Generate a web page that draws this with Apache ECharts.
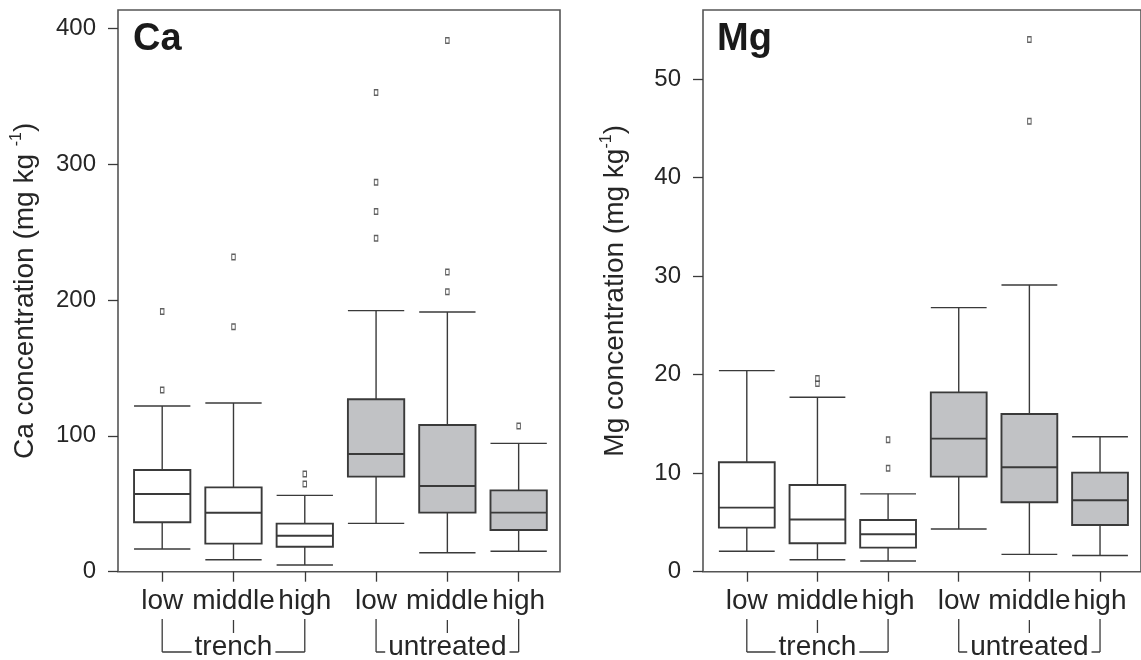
<!DOCTYPE html>
<html>
<head>
<meta charset="utf-8">
<script src="https://cdn.jsdelivr.net/npm/echarts@6/dist/echarts.min.js"></script>
<style>
  html, body { margin: 0; padding: 0; background: #fff; }
  #chart { width: 1141px; height: 660px; }
</style>
</head>
<body>
<div id="chart"></div>
<script>
// Sampling positions along the slope, grouped by treatment
const categories = ['low', 'middle', 'high', 'low', 'middle', 'high'];
const treatments = ['trench', 'trench', 'trench', 'untreated', 'untreated', 'untreated'];
const groupNames = ['trench', 'untreated'];

// Tick labels of the two concentration axes
const caTicks = [0, 100, 200, 300, 400];
const mgTicks = [0, 10, 20, 30, 40, 50];

// Ca (mg kg-1): [lower whisker, Q1, median, Q3, upper whisker]
const caStats = [
  [16.7, 36.4, 57.2, 74.9, 122.0],
  [8.8, 20.7, 43.4, 62.1, 124.2],
  [4.9, 18.4, 26.5, 35.4, 56.2],
  [35.6, 70.0, 86.7, 126.9, 192.2],
  [14.0, 43.5, 63.1, 108.0, 191.2],
  [15.0, 30.7, 43.5, 59.9, 94.5]
];
const caOutliers = [
  [133.7, 191.5],
  [180.4, 231.7],
  [64.6, 71.9],
  [245.5, 265.1, 286.7, 352.7],
  [206.0, 220.7, 391.0],
  [107.3]
];

// Mg (mg kg-1): [lower whisker, Q1, median, Q3, upper whisker]
const mgStats = [
  [2.07, 4.47, 6.5, 11.1, 20.4],
  [1.22, 2.88, 5.3, 8.8, 17.7],
  [1.09, 2.44, 3.8, 5.25, 7.9],
  [4.34, 9.65, 13.5, 18.2, 26.8],
  [1.76, 7.05, 10.6, 16.0, 29.1],
  [1.64, 4.74, 7.25, 10.05, 13.7]
];
const mgOutliers = [
  [],
  [19.1, 19.6],
  [10.5, 13.4],
  [],
  [45.7, 54.0],
  []
];

const FONT = '"Liberation Sans", Arial, Helvetica, sans-serif';
const INK = '#262626';
const LINE = '#3a3a3a';
const FRAME = '#555555';
const SHADE = '#c1c2c5';
const X_MIN = 0.38, X_MAX = 6.58;
const BOX_W = 0.79;
const positions = categories.map((_, i) => i + 1);

function boxRows(stats) {
  return stats.map((s, i) => [positions[i]].concat(s, [treatments[i] === 'untreated' ? 1 : 0]));
}
function outlierPoints(outliers) {
  const pts = [];
  outliers.forEach((vals, i) => vals.forEach(v => pts.push([positions[i], v])));
  return pts;
}

function renderBox(params, api) {
  const x = api.value(0);
  const pMin = api.coord([x, api.value(1)]);
  const pQ1 = api.coord([x, api.value(2)]);
  const pMed = api.coord([x, api.value(3)]);
  const pQ3 = api.coord([x, api.value(4)]);
  const pMax = api.coord([x, api.value(5)]);
  const shaded = api.value(6) === 1;
  const half = api.size([BOX_W, 0])[0] / 2;
  const cx = pMed[0];
  const thin = { stroke: LINE, lineWidth: 1.4 };
  const thick = { stroke: LINE, lineWidth: 1.9 };
  return {
    type: 'group',
    children: [
      { type: 'line', shape: { x1: cx, y1: pMax[1], x2: cx, y2: pQ3[1] }, style: thin },
      { type: 'line', shape: { x1: cx, y1: pQ1[1], x2: cx, y2: pMin[1] }, style: thin },
      { type: 'line', shape: { x1: cx - half, y1: pMax[1], x2: cx + half, y2: pMax[1] }, style: thin },
      { type: 'line', shape: { x1: cx - half, y1: pMin[1], x2: cx + half, y2: pMin[1] }, style: thin },
      { type: 'rect', shape: { x: cx - half, y: pQ3[1], width: 2 * half, height: pQ1[1] - pQ3[1] },
        style: { fill: shaded ? SHADE : '#ffffff', stroke: LINE, lineWidth: 1.9 } },
      { type: 'line', shape: { x1: cx - half, y1: pMed[1], x2: cx + half, y2: pMed[1] }, style: thick }
    ]
  };
}

function xAxisFor(g) {
  return {
    type: 'value', gridIndex: g, min: X_MIN, max: X_MAX, offset: 2,
    axisLine: { show: false },
    splitLine: { show: false },
    axisTick: { show: true, length: 10, customValues: positions, lineStyle: { color: LINE, width: 1.3 } },
    axisLabel: {
      customValues: positions,
      formatter: v => categories[Math.round(v) - 1],
      fontSize: 28, fontFamily: FONT, color: INK, margin: 14
    }
  };
}

function yAxisFor(g, max, ticks, name, nameGap) {
  return {
    type: 'value', gridIndex: g, min: 0, max: max,
    axisLine: { show: false },
    splitLine: { show: false },
    axisTick: { show: true, length: 10, customValues: ticks, lineStyle: { color: LINE, width: 1.3 } },
    axisLabel: { customValues: ticks, fontSize: 24, fontFamily: FONT, color: INK, margin: 22 },
    name: name,
    nameLocation: 'middle',
    nameRotate: 90,
    nameGap: nameGap,
    nameTextStyle: {
      rich: {
        t: { fontSize: 28, fontFamily: FONT, color: INK, lineHeight: 32 },
        s: { fontSize: 16, fontFamily: FONT, color: INK, lineHeight: 32, verticalAlign: 'top', padding: [0, 0, 13, 0] }
      }
    }
  };
}

const gridStyle = { show: true, borderColor: FRAME, borderWidth: 1.6, backgroundColor: 'transparent' };

const option = {
  animation: false,
  backgroundColor: '#ffffff',
  grid: [
    Object.assign({ left: 118, top: 10, width: 442, height: 561.7 }, gridStyle),
    Object.assign({ left: 703, top: 10, width: 442, height: 561.7 }, gridStyle)
  ],
  xAxis: [xAxisFor(0), xAxisFor(1)],
  yAxis: [
    yAxisFor(0, 413.5, caTicks, '{t|Ca concentration (mg kg }{s|-1}{t|)}', 77),
    yAxisFor(1, 57.0, mgTicks, '{t|Mg concentration (mg kg}{s|-1}{t|)}', 72)
  ],
  graphic: [
    { type: 'text', left: 133, top: 21, style: { text: 'Ca', font: 'bold 38px ' + FONT, fill: '#1a1a1a' } },
    { type: 'text', left: 717, top: 21, style: { text: 'Mg', font: 'bold 38px ' + FONT, fill: '#1a1a1a' } }
  ],
  series: [
    { type: 'custom', xAxisIndex: 0, yAxisIndex: 0, renderItem: renderBox, data: boxRows(caStats),
      encode: { x: 0, y: [1, 2, 3, 4, 5] }, clip: false },
    { type: 'custom', xAxisIndex: 1, yAxisIndex: 1, renderItem: renderBox, data: boxRows(mgStats),
      encode: { x: 0, y: [1, 2, 3, 4, 5] }, clip: false },
    { type: 'scatter', xAxisIndex: 0, yAxisIndex: 0, data: outlierPoints(caOutliers),
      symbol: 'rect', symbolSize: [3.5, 5.5],
      itemStyle: { color: '#ffffff', borderColor: LINE, borderWidth: 1.2 } },
    { type: 'scatter', xAxisIndex: 1, yAxisIndex: 1, data: outlierPoints(mgOutliers),
      symbol: 'rect', symbolSize: [3.5, 5.5],
      itemStyle: { color: '#ffffff', borderColor: LINE, borderWidth: 1.2 } }
  ]
};

const chart = echarts.init(document.getElementById('chart'), null, { renderer: 'canvas' });
chart.setOption(option);

// Treatment brackets beneath the position labels, placed on the axis scale
function seg(x1, y1, x2, y2) {
  return { type: 'line', shape: { x1, y1, x2, y2 }, style: { stroke: LINE, lineWidth: 1.3 }, z: 10 };
}
function bracketElements(g) {
  const els = [];
  groupNames.forEach(name => {
    const xs = [];
    treatments.forEach((t, i) => {
      if (t === name) xs.push(chart.convertToPixel({ xAxisIndex: g, yAxisIndex: g }, [positions[i], 0])[0]);
    });
    const x0 = xs[0], x1 = xs[xs.length - 1];
    els.push(seg(x0, 619, x0, 652), seg(x1, 619, x1, 652), seg(x0, 652, x1, 652));
    xs.slice(1, -1).forEach(x => els.push(seg(x, 620, x, 634)));
    els.push({
      type: 'text', x: (x0 + x1) / 2, y: 647, z: 11,
      style: { text: name, font: '28px ' + FONT, fill: INK, align: 'center', verticalAlign: 'middle',
               backgroundColor: '#ffffff', padding: [0, 3] }
    });
  });
  return els;
}
chart.setOption({
  graphic: option.graphic.concat(bracketElements(0), bracketElements(1))
});
</script>
</body>
</html>
